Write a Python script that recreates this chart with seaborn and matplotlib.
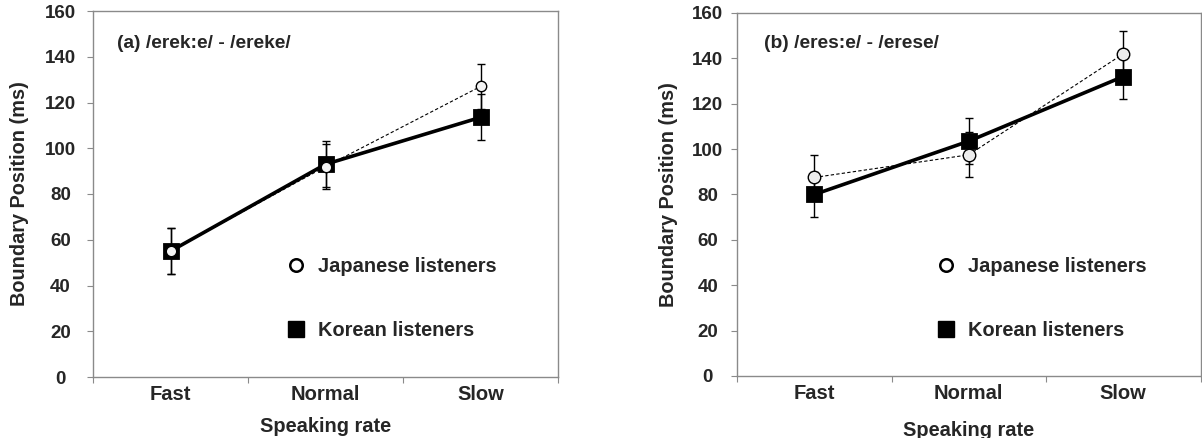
import matplotlib
matplotlib.use("Agg")
import matplotlib.pyplot as plt
from matplotlib.lines import Line2D
import seaborn as sns
import numpy as np

rates = ["Fast", "Normal", "Slow"]
panel_titles = ["(a) /erek:e/ - /ereke/", "(b) /eres:e/ - /erese/"]
japanese_a = [55, 92, 127]
korean_a = [55, 93, 113.5]
japanese_b = [87.5, 97.5, 142]
korean_b = [80, 103.5, 132]
err_japanese_a = [10, 10, 10]
err_korean_a = [10, 10, 10]
err_japanese_b = [10, 10, 10]
err_korean_b = [10, 10, 10]
yticks = [0, 20, 40, 60, 80, 100, 120, 140, 160]
series_labels = ["Japanese listeners", "Korean listeners"]

sns.set_theme(style="white")
plt.rcParams["font.family"] = ["Liberation Sans", "DejaVu Sans"]
plt.rcParams["font.weight"] = "bold"

W, H = 1202, 438
fig = plt.figure(figsize=(W / 100, H / 100), dpi=100)

axes_px = [(93, 11, 558, 377), (737, 13, 1200.5, 376)]
legend_pos = [(0.415, 0.327), (0.43, 0.327)]
title_pos = [(0.051, 0.91), (0.058, 0.917)]
ylabel_x = [-0.158, -0.147]
xlabel_y = [-0.134, -0.149]
ytick_pad = [19.0, 16.5]
jp_marker = [7.5, 9.0]
jp_fill = ["#f4f4f4", "#ececec"]
data = [(japanese_a, korean_a, err_japanese_a, err_korean_a),
        (japanese_b, korean_b, err_japanese_b, err_korean_b)]

grey = "#8a8a8a"
for i, (l, t, r, b) in enumerate(axes_px):
    ax = fig.add_axes([l / W, (H - b) / H, (r - l) / W, (b - t) / H])
    jp, kr, ejp, ekr = data[i]
    pos = np.arange(len(rates))

    # Korean: thick solid line, black squares
    sns.pointplot(x=rates, y=kr, ax=ax, color="black", markers="s",
                  linestyles="-", errorbar=None)
    lk = ax.lines[-1]
    lk.set_linewidth(2.6)
    lk.set_markersize(10)
    lk.set_markerfacecolor("black")
    lk.set_markeredgecolor("black")
    lk.set_zorder(3)

    # Japanese: thin dashed line, light circles
    sns.pointplot(x=rates, y=jp, ax=ax, color="black", markers="o",
                  linestyles="--", errorbar=None)
    lj = ax.lines[-1]
    lj.set_linewidth(0.8)
    lj.set_dashes((3, 2))
    lj.set_markersize(jp_marker[i])
    lj.set_markerfacecolor(jp_fill[i])
    lj.set_markeredgecolor("black")
    lj.set_markeredgewidth(1.0)
    lj.set_zorder(4)

    ax.errorbar(pos, kr, yerr=ekr, fmt="none", ecolor="black",
                elinewidth=1, capsize=2.8, capthick=1, zorder=2)
    ax.errorbar(pos, jp, yerr=ejp, fmt="none", ecolor="black",
                elinewidth=1, capsize=2.8, capthick=1, zorder=2)

    ax.set_xlim(-0.5, 2.5)
    ax.set_ylim(0, 160)
    ax.set_yticks(yticks)
    ax.set_yticklabels([str(v) for v in yticks], fontsize=13.5,
                       fontweight="bold")
    for lab in ax.get_yticklabels():
        lab.set_ha("center")
    ax.set_xticks(pos)
    ax.set_xticklabels(rates, fontsize=14.5, fontweight="bold")
    ax.set_xticks([-0.5, 0.5, 1.5, 2.5], minor=True)
    ax.tick_params(axis="x", which="major", length=0, pad=6)
    ax.tick_params(axis="x", which="minor", length=4, width=0.8, color=grey,
                   direction="out", bottom=True)
    ax.tick_params(axis="y", which="major", length=4.5, width=0.8, color=grey,
                   direction="out", left=True, pad=ytick_pad[i])
    for s in ax.spines.values():
        s.set_color(grey)
        s.set_linewidth(1.0)
        s.set_visible(True)
    ax.set_xlabel("Speaking rate", fontsize=14.4, fontweight="bold")
    ax.set_ylabel("Boundary Position (ms)", fontsize=14.3, fontweight="bold")
    ax.xaxis.set_label_coords(0.5, xlabel_y[i])
    ax.xaxis.label.set_va("center")
    ax.yaxis.set_label_coords(ylabel_x[i], 0.5)
    ax.yaxis.label.set_va("center")
    ax.text(title_pos[i][0], title_pos[i][1], panel_titles[i],
            transform=ax.transAxes, fontsize=13.8, fontweight="bold",
            va="center", ha="left")

    handles = [
        Line2D([], [], linestyle="none", marker="o", markersize=9,
               markerfacecolor="white", markeredgecolor="black",
               markeredgewidth=1.8),
        Line2D([], [], linestyle="none", marker="s", markersize=12,
               markerfacecolor="black", markeredgecolor="black"),
    ]
    ax.legend(handles, series_labels, loc="upper left",
              bbox_to_anchor=legend_pos[i], frameon=False, handlelength=1,
              handletextpad=0.6, labelspacing=2.25, borderaxespad=0,
              borderpad=0, prop={"size": 14.4, "weight": "bold"})

fig.savefig("out.png", dpi=100)
